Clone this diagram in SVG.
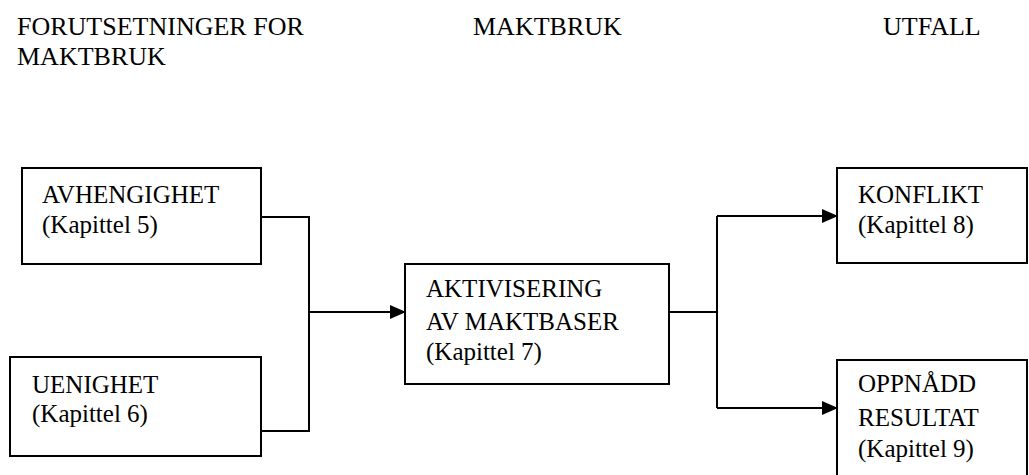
<svg xmlns="http://www.w3.org/2000/svg" width="1029" height="475" viewBox="0 0 1029 475">
<style>
.box{fill:#fff;stroke:#000;stroke-width:2}
.conn{fill:none;stroke:#000;stroke-width:2}
</style>
<defs>
<marker id="arr" markerWidth="16" markerHeight="14" refX="15" refY="7" orient="auto" markerUnits="userSpaceOnUse">
<path d="M0,0 L16,7 L0,14 Z" fill="#000"/>
</marker>
</defs>
<rect width="1029" height="475" fill="#fff"/>
<g font-family="Liberation Serif, DejaVu Serif, serif" font-size="25" fill="#000">
<g id="headers" font-size="26">
<text x="17" y="35">FORUTSETNINGER FOR</text>
<text x="17" y="65">MAKTBRUK</text>
<text x="473" y="35">MAKTBRUK</text>
<text x="883" y="35">UTFALL</text>
</g>
<g id="connectors">
<polyline class="conn" points="261,217 309,217 309,431 261,431"/>
<line class="conn" x1="309" y1="312" x2="405" y2="312" marker-end="url(#arr)"/>
<line class="conn" x1="669" y1="312" x2="717" y2="312"/>
<line class="conn" x1="717" y1="216" x2="717" y2="408"/>
<line class="conn" x1="717" y1="216" x2="837" y2="216" marker-end="url(#arr)"/>
<line class="conn" x1="717" y1="408" x2="837" y2="408" marker-end="url(#arr)"/>
</g>
<g id="avhengighet">
<rect class="box" x="22" y="168" width="239" height="96"/>
<text x="42" y="203">AVHENGIGHET</text>
<text x="42" y="233">(Kapittel 5)</text>
</g>
<g id="uenighet">
<rect class="box" x="10" y="357" width="251" height="99"/>
<text x="32" y="393">UENIGHET</text>
<text x="32" y="422">(Kapittel 6)</text>
</g>
<g id="aktivisering">
<rect class="box" x="405" y="264" width="264" height="120"/>
<text x="426" y="297">AKTIVISERING</text>
<text x="426" y="330">AV MAKTBASER</text>
<text x="426" y="360">(Kapittel 7)</text>
</g>
<g id="konflikt">
<rect class="box" x="837" y="168" width="190" height="95"/>
<text x="858" y="203">KONFLIKT</text>
<text x="858" y="233">(Kapittel 8)</text>
</g>
<g id="oppnadd">
<rect class="box" x="837" y="360" width="190" height="125"/>
<text x="858" y="392">OPPNÅDD</text>
<text x="858" y="426">RESULTAT</text>
<text x="858" y="457">(Kapittel 9)</text>
</g>
</g>
</svg>
